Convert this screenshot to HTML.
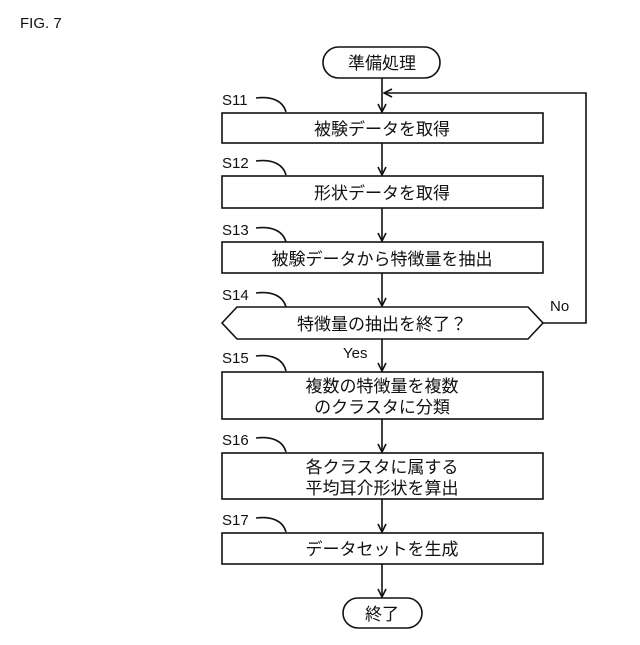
<!DOCTYPE html>
<html><head><meta charset="utf-8"><style>
body{margin:0;background:#fff}
svg text{font-family:"Liberation Sans","Noto Sans CJK JP",sans-serif;fill:#111}
</style></head><body>
<svg width="640" height="640" viewBox="0 0 640 640" xmlns="http://www.w3.org/2000/svg">
<defs><marker id="a" markerWidth="10" markerHeight="10" refX="9" refY="5" orient="auto" markerUnits="userSpaceOnUse"><path d="M1,1 L9,5 L1,9" fill="none" stroke="#111" stroke-width="1.6"/></marker></defs>
<g stroke="#111" stroke-width="1.6" fill="none">
<rect x="323" y="47" width="117" height="31" rx="15.5"/>
<rect x="222" y="113" width="321" height="30"/>
<rect x="222" y="176" width="321" height="32"/>
<rect x="222" y="242" width="321" height="31"/>
<polygon points="222,323 237,307 528,307 543,323 528,339 237,339"/>
<rect x="222" y="372" width="321" height="47"/>
<rect x="222" y="453" width="321" height="46"/>
<rect x="222" y="533" width="321" height="31"/>
<rect x="343" y="598" width="79" height="30" rx="15"/>
<line x1="382" y1="78" x2="382" y2="112" marker-end="url(#a)"/>
<line x1="382" y1="143" x2="382" y2="175" marker-end="url(#a)"/>
<line x1="382" y1="208" x2="382" y2="241" marker-end="url(#a)"/>
<line x1="382" y1="273" x2="382" y2="306" marker-end="url(#a)"/>
<line x1="382" y1="339" x2="382" y2="371" marker-end="url(#a)"/>
<line x1="382" y1="419" x2="382" y2="452" marker-end="url(#a)"/>
<line x1="382" y1="499" x2="382" y2="532" marker-end="url(#a)"/>
<line x1="382" y1="564" x2="382" y2="597" marker-end="url(#a)"/>
<polyline points="543,323 586,323 586,93 384,93" marker-end="url(#a)"/>
<path d="M256,98 C272,96 283,101 286,112"/>
<path d="M256,161 C272,159 283,164 286,175"/>
<path d="M256,228 C272,226 283,231 286,242"/>
<path d="M256,293 C272,291 283,296 286,307"/>
<path d="M256,356 C272,354 283,359 286,371"/>
<path d="M256,438 C272,436 283,441 286,452"/>
<path d="M256,518 C272,516 283,521 286,532"/>
</g>
<g font-size="15">
<text x="20" y="28">FIG. 7</text>
<text x="222" y="105">S11</text>
<text x="222" y="168">S12</text>
<text x="222" y="235">S13</text>
<text x="222" y="300">S14</text>
<text x="222" y="363">S15</text>
<text x="222" y="445">S16</text>
<text x="222" y="525">S17</text>
<text x="550" y="311">No</text>
<text x="343" y="358">Yes</text>
</g>
<g font-size="17" text-anchor="middle">
<text x="382" y="69">準備処理</text>
<text x="382" y="135">被験データを取得</text>
<text x="382" y="199">形状データを取得</text>
<text x="382" y="265">被験データから特徴量を抽出</text>
<text x="382" y="330">特徴量の抽出を終了？</text>
<text x="382" y="392">複数の特徴量を複数</text>
<text x="382" y="413">のクラスタに分類</text>
<text x="382" y="473">各クラスタに属する</text>
<text x="382" y="494">平均耳介形状を算出</text>
<text x="382" y="555">データセットを生成</text>
<text x="382" y="620">終了</text>
</g>
</svg>
</body></html>
